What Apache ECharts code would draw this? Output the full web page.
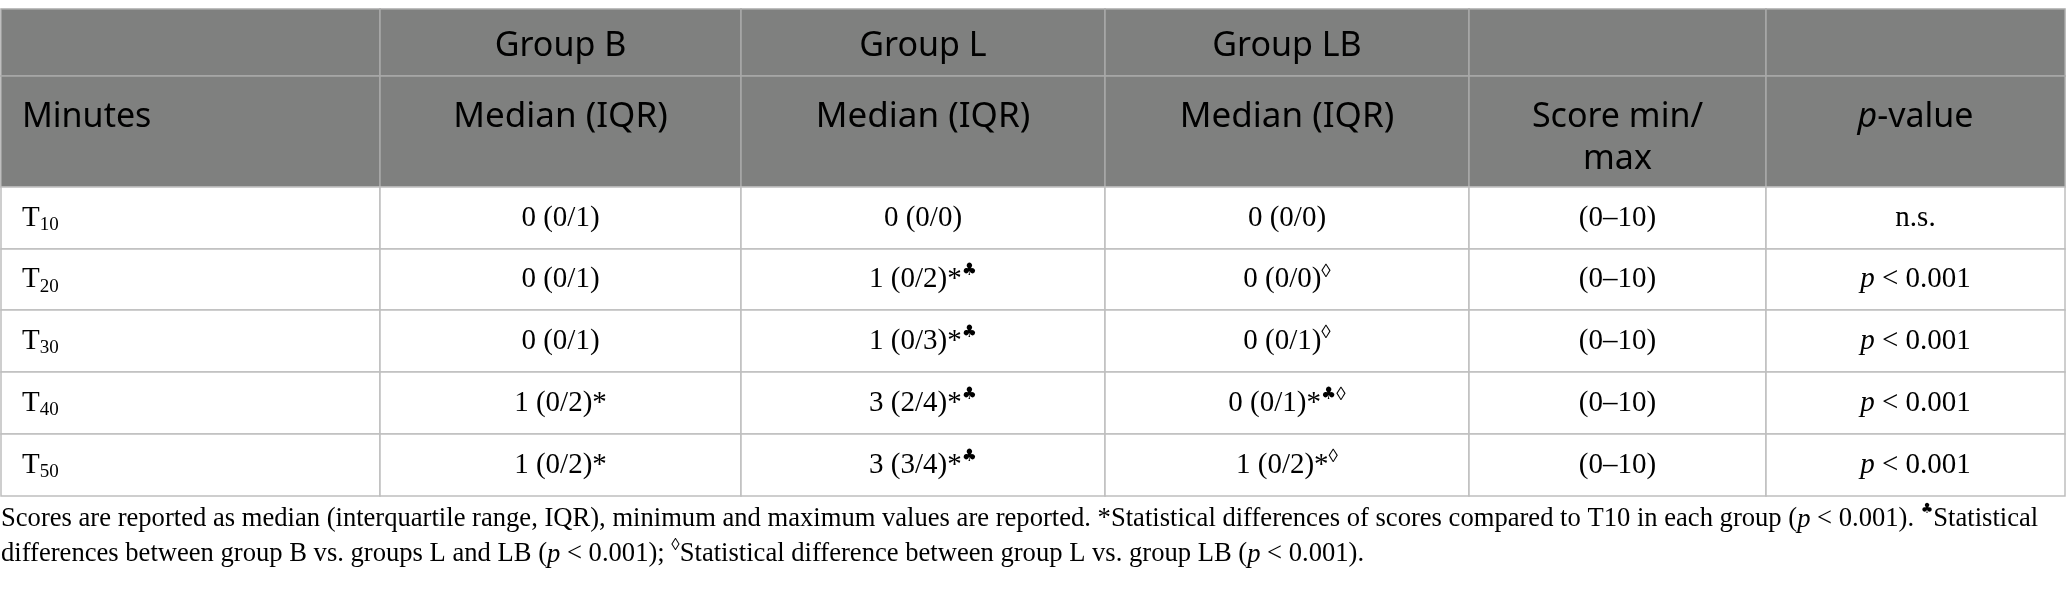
<!DOCTYPE html>
<html style="height: 100%">
<head>
    <meta charset="utf-8">
</head>
<body style="height: 100%; margin: 0; background: #fff">

<div id="container" style="width: 2067px; height: 590px"></div>
<script src="https://cdn.jsdelivr.net/npm/echarts@6/dist/echarts.min.js"></script>

<script>
    // table content
    var minutes = ['10', '20', '30', '40', '50'];
    var groupNames = ['Group B', 'Group L', 'Group LB'];
    var groupB = ['0 (0/1)', '0 (0/1)', '0 (0/1)', '1 (0/2)', '1 (0/2)'];
    var groupBMarks = ['', '', '', '*', '*'];
    var groupL = ['0 (0/0)', '1 (0/2)', '1 (0/3)', '3 (2/4)', '3 (3/4)'];
    var groupLMarks = ['', '*♣', '*♣', '*♣', '*♣'];
    var groupLB = ['0 (0/0)', '0 (0/0)', '0 (0/1)', '0 (0/1)', '1 (0/2)'];
    var groupLBMarks = ['', '◊', '◊', '*♣◊', '*◊'];
    var scoreRange = ['(0–10)', '(0–10)', '(0–10)', '(0–10)', '(0–10)'];
    var pValues = ['n.s.', 'p < 0.001', 'p < 0.001', 'p < 0.001', 'p < 0.001'];
    var noteLines = [
        'Scores are reported as median (interquartile range, IQR), minimum and maximum values are reported. *Statistical differences of scores compared to T10 in each group (p < 0.001). ♣Statistical',
        'differences between group B vs. groups L and LB (p < 0.001); ◊Statistical difference between group L vs. group LB (p < 0.001).'
    ];

    // layout (table grid lines, px)
    var colEdges = [1, 380, 741, 1105, 1469, 1766, 2065];
    var rowEdges = [9, 76, 187, 249, 310, 372, 434, 496];

    var headRich = {
        n: {fontFamily: 'Noto Sans', fontSize: 34, lineHeight: 42, color: '#fff'},
        w: {fontFamily: 'Noto Sans', fontSize: 35, lineHeight: 42, color: '#fff'},
        i: {fontFamily: 'Noto Sans', fontSize: 34, lineHeight: 42, color: '#fff', fontStyle: 'italic'}
    };
    var bodyRich = {
        n: {fontFamily: 'Liberation Serif', fontSize: 29, lineHeight: 34, color: '#111'},
        i: {fontFamily: 'Liberation Serif', fontSize: 29, lineHeight: 34, color: '#111', fontStyle: 'italic'},
        sub: {fontFamily: 'Liberation Serif', fontSize: 19, lineHeight: 24, color: '#111', verticalAlign: 'bottom'},
        sup: {fontFamily: 'Liberation Serif', fontSize: 19, lineHeight: 18, color: '#111', verticalAlign: 'top'},
        club: {fontFamily: 'DejaVu Sans', fontSize: 17, lineHeight: 16, color: '#111', verticalAlign: 'top'}
    };
    var noteRich = {
        n: {fontFamily: 'Liberation Serif', fontSize: 26.6, lineHeight: 35, color: '#1a1a1a'},
        i: {fontFamily: 'Liberation Serif', fontSize: 26.6, lineHeight: 35, color: '#1a1a1a', fontStyle: 'italic'},
        sup: {fontFamily: 'Liberation Serif', fontSize: 17, lineHeight: 17, color: '#1a1a1a', verticalAlign: 'top'},
        club: {fontFamily: 'DejaVu Sans', fontSize: 14, lineHeight: 13, color: '#1a1a1a', verticalAlign: 'top'}
    };

    function marks(m) {
        var s = '';
        for (var k = 0; k < m.length; k++) {
            var ch = m.charAt(k);
            if (ch === '*') s += '{n|*}';
            else if (ch === '♣') s += '{club|♣}';
            else s += '{sup|' + ch + '}';
        }
        return s;
    }

    function pText(v) {
        if (v.indexOf('p ') === 0) return '{i|p}{n|' + v.substring(1) + '}';
        return '{n|' + v + '}';
    }

    function noteText(line) {
        return line.replace(/\(p </g, '({i|p} <')
            .replace(/\*/g, '{n|*}')
            .replace(/♣/g, '{club|♣}')
            .replace(/◊/g, '{sup|◊}')
            .replace(/([^}|{]+)(?=\{|$)/g, function (t, s, off, all) {
                // wrap loose runs in the normal style
                var before = all.lastIndexOf('{', off);
                var close = all.lastIndexOf('}', off);
                return before > close ? s : '{n|' + s + '}';
            });
    }

    function cellText(c, r) {
        if (r === 0) {
            return (c >= 1 && c <= 3) ? '{n|' + groupNames[c - 1] + '}' : '';
        }
        if (r === 1) {
            if (c === 0) return '{n|Minutes}';
            if (c <= 3) return '{w|Median (IQR)}';
            if (c === 4) return '{n|Score min/}\n{n|max}';
            return '{i|p}{n|-value}';
        }
        var k = r - 2;
        if (c === 0) return '{n|T}{sub|' + minutes[k] + '}';
        if (c === 1) return '{n|' + groupB[k] + '}' + marks(groupBMarks[k]);
        if (c === 2) return '{n|' + groupL[k] + '}' + marks(groupLMarks[k]);
        if (c === 3) return '{n|' + groupLB[k] + '}' + marks(groupLBMarks[k]);
        if (c === 4) return '{n|' + scoreRange[k] + '}';
        return pText(pValues[k]);
    }

    var cells = [];
    for (var r = 0; r < rowEdges.length - 1; r++) {
        for (var c = 0; c < colEdges.length - 1; c++) {
            cells.push([c, r]);
        }
    }

    function renderCell(params, api) {
        var c = api.value(0), r = api.value(1);
        var p0 = api.coord([colEdges[c], rowEdges[r]]);
        var p1 = api.coord([colEdges[c + 1], rowEdges[r + 1]]);
        var head = r < 2;
        var tx = c === 0 ? p0[0] + 21 : (p0[0] + p1[0]) / 2;
        var ty = r === 1 ? p0[1] + 20 : (p0[1] + p1[1]) / 2 + (r === 0 ? 4 : 0);
        return {
            type: 'group',
            children: [
                {
                    type: 'rect',
                    shape: {x: p0[0], y: p0[1], width: p1[0] - p0[0], height: p1[1] - p0[1]},
                    style: {fill: head ? '#7f807f' : '#fff', stroke: head ? '#a9a9a9' : '#bfbfbf', lineWidth: 1.5}
                },
                {
                    type: 'text',
                    x: tx,
                    y: ty,
                    style: {
                        text: cellText(c, r),
                        align: c === 0 ? 'left' : 'center',
                        verticalAlign: r === 1 ? 'top' : 'middle',
                        rich: head ? headRich : bodyRich
                    }
                }
            ]
        };
    }

    var dom = document.getElementById("container");
    var myChart = echarts.init(dom);

    var option = {
        animation: false,
        grid: {left: 0, right: 0, top: 0, bottom: 0},
        xAxis: {type: 'value', min: 0, max: 2067, show: false},
        yAxis: {type: 'value', min: 0, max: 590, inverse: true, show: false},
        graphic: [
            {
                type: 'text',
                left: 1,
                top: 502,
                style: {
                    text: noteLines.map(noteText).join('\n'),
                    rich: noteRich
                }
            }
        ],
        series: [
            {
                type: 'custom',
                renderItem: renderCell,
                data: cells,
                silent: true
            }
        ]
    };
    myChart.setOption(option, true);
</script>
</body>
</html>
